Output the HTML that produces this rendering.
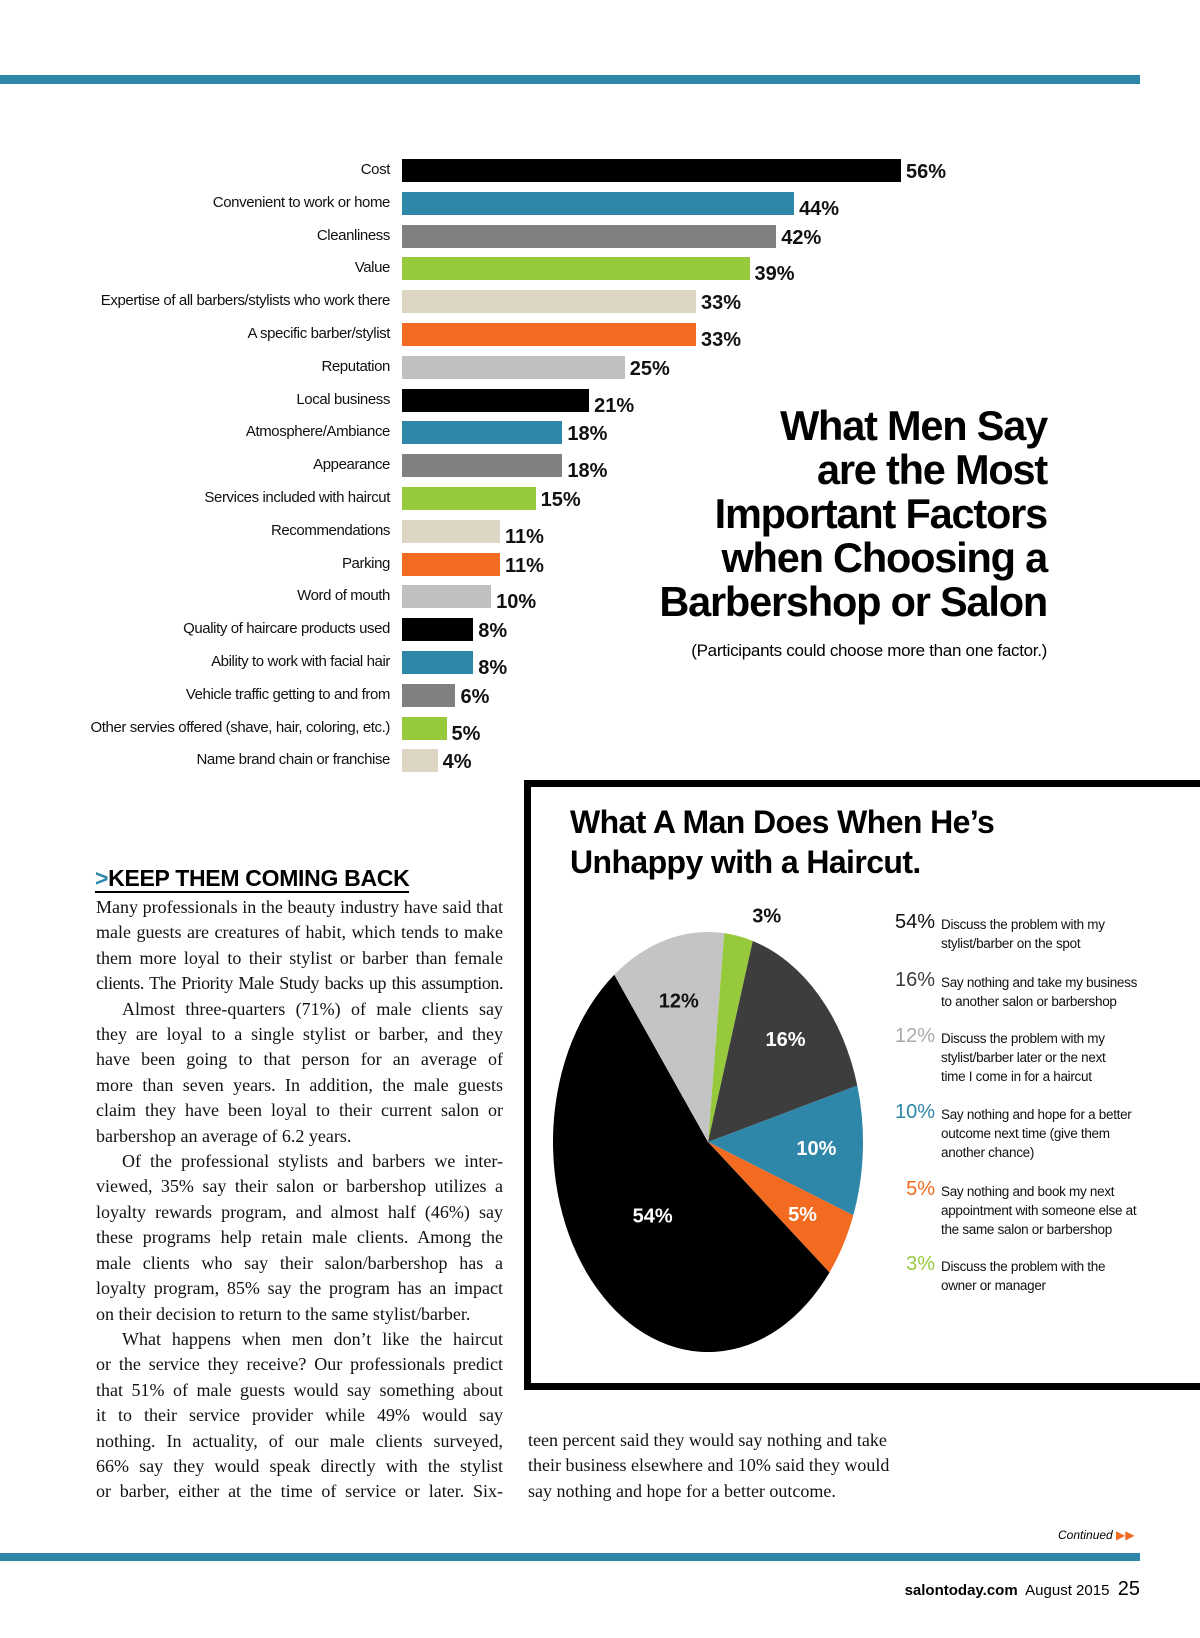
<!DOCTYPE html>
<html><head><meta charset="utf-8">
<style>
html,body{margin:0;padding:0;background:#fff;}
body{width:1200px;height:1638px;position:relative;overflow:hidden;font-family:"Liberation Sans",sans-serif;}
.abs{position:absolute;}
.lbl{position:absolute;right:810px;font-family:"Liberation Sans Narrow","Liberation Sans",sans-serif;font-size:15px;letter-spacing:-0.4px;white-space:nowrap;color:#111;}
.val{position:absolute;font-family:"Liberation Sans Narrow","Liberation Sans",sans-serif;font-weight:bold;font-size:20px;color:#111;}
.bar{position:absolute;height:23px;}
.title{position:absolute;right:153px;font-weight:bold;font-size:41.5px;letter-spacing:-1.2px;text-align:right;white-space:nowrap;line-height:44px;}
.body{position:absolute;left:96px;width:407px;font-family:"Liberation Serif",serif;font-size:18px;line-height:25.4px;color:#111;}
.body div{text-align:justify;text-align-last:justify;white-space:nowrap;}
.body div.last{text-align-last:left;}
.body div.ind{padding-left:26px;}
.leg{position:absolute;left:941px;font-family:"Liberation Sans Narrow","Liberation Sans",sans-serif;font-size:13.5px;line-height:19px;letter-spacing:-0.3px;color:#111;}
.legp{position:absolute;right:265px;font-family:"Liberation Sans Narrow","Liberation Sans",sans-serif;font-size:20px;}
</style></head>
<body>
<div class="abs" style="left:0;top:75px;width:1140px;height:9px;background:#2e86a8;"></div>
<div class="abs" style="left:0;top:1553px;width:1140px;height:8px;background:#2e86a8;"></div>

<div id="barchart"></div>

<div class="title" style="top:404px;">What Men Say<br>are the Most<br>Important Factors<br>when Choosing a<br>Barbershop or Salon</div>
<div class="abs" style="right:153px;top:641px;font-family:'Liberation Sans Narrow','Liberation Sans',sans-serif;font-size:17px;letter-spacing:-0.3px;">(Participants could choose more than one factor.)</div>

<div class="abs" style="left:524px;top:780px;width:700px;height:596px;border:7px solid #000;"></div>
<div class="abs" style="left:570px;top:802px;font-weight:bold;font-size:32px;line-height:40px;letter-spacing:-0.6px;">What A Man Does When He’s<br>Unhappy with a Haircut.</div>
<svg class="abs" id="pie" style="left:0;top:0;" width="1200" height="1638"></svg>
<div id="legend"></div>

<div class="abs" style="left:95px;top:866px;font-family:'Liberation Sans Narrow','Liberation Sans',sans-serif;font-weight:bold;font-size:23px;border-bottom:2px solid #000;line-height:25px;letter-spacing:-0.3px;"><span style="color:#2e86a8;">&gt;</span>KEEP THEM COMING BACK</div>
<div class="body" style="top:895px;">
<div>Many professionals in the beauty industry have said that</div>
<div>male guests are creatures of habit, which tends to make</div>
<div>them more loyal to their stylist or barber than female</div>
<div style="letter-spacing:-0.45px;word-spacing:-1px;">clients. The Priority Male Study backs up this assumption.</div>
<div class="ind">Almost three-quarters (71%) of male clients say</div>
<div>they are loyal to a single stylist or barber, and they</div>
<div>have been going to that person for an average of</div>
<div>more than seven years. In addition, the male guests</div>
<div>claim they have been loyal to their current salon or</div>
<div class="last">barbershop an average of 6.2 years.</div>
<div class="ind">Of the professional stylists and barbers we inter-</div>
<div>viewed, 35% say their salon or barbershop utilizes a</div>
<div>loyalty rewards program, and almost half (46%) say</div>
<div>these programs help retain male clients. Among the</div>
<div>male clients who say their salon/barbershop has a</div>
<div>loyalty program, 85% say the program has an impact</div>
<div class="last">on their decision to return to the same stylist/barber.</div>
<div class="ind">What happens when men don’t like the haircut</div>
<div>or the service they receive? Our professionals predict</div>
<div>that 51% of male guests would say something about</div>
<div>it to their service provider while 49% would say</div>
<div>nothing. In actuality, of our male clients surveyed,</div>
<div>66% say they would speak directly with the stylist</div>
<div>or barber, either at the time of service or later. Six-</div>
</div>
<div class="body" style="left:528px;top:1428px;width:390px;">
<div class="last">teen percent said they would say nothing and take</div>
<div class="last">their business elsewhere and 10% said they would</div>
<div class="last">say nothing and hope for a better outcome.</div>
</div>

<div class="abs" style="left:1058px;top:1528px;font-size:12px;font-style:italic;">Continued <span style="color:#f26b21;font-style:normal;">▶▶</span></div>
<div class="abs" style="right:60px;top:1578px;font-size:15px;white-space:nowrap;"><b>salontoday.com</b>&nbsp; August 2015 &nbsp;<span style="font-size:20px;">25</span></div>

<script>
const factorLabels=["Cost","Convenient to work or home","Cleanliness","Value","Expertise of all barbers/stylists who work there","A specific barber/stylist","Reputation","Local business","Atmosphere/Ambiance","Appearance","Services included with haircut","Recommendations","Parking","Word of mouth","Quality of haircare products used","Ability to work with facial hair","Vehicle traffic getting to and from","Other servies offered (shave, hair, coloring, etc.)","Name brand chain or franchise"];
const factorValues=[56,44,42,39,33,33,25,21,18,18,15,11,11,10,8,8,6,5,4];
const barColors=["#000","#2e86a8","#808080","#97c93d","#ddd6c4","#f26b21","#c0c0c0"];
const pieValues=[3,16,10,5,54,12];
const pieColors=["#97c93d","#3d3d3d","#2e86a8","#f26b21","#000000","#c4c4c4"];
const pieLabelColors=["#111","#fff","#fff","#fff","#fff","#111"];
const legendOrder=[4,1,5,2,3,0];
const legendTexts=["Discuss the problem with the<br>owner or manager","Say nothing and take my business<br>to another salon or barbershop","Say nothing and hope for a better<br>outcome next time (give them<br>another chance)","Say nothing and book my next<br>appointment with someone else at<br>the same salon or barbershop","Discuss the problem with my<br>stylist/barber on the spot","Discuss the problem with my<br>stylist/barber later or the next<br>time I come in for a haircut"];
const legendColors=["#97c93d","#3d3d3d","#2e86a8","#f26b21","#111","#aaa"];

const x0=402, perPct=(901-402)/56, rowTop=159, rowStep=32.8;
const xs=v=>v*perPct;
const host=document.getElementById('barchart');
factorValues.forEach((v,i)=>{
  const y=rowTop+i*rowStep;
  const b=document.createElement('div');
  b.className='bar';
  
  
  b.style.left=x0+'px';b.style.top=y+'px';b.style.width=xs(v)+'px';b.style.background=barColors[i%7];
  host.appendChild(b);
  const l=document.createElement('div');
  l.className='lbl';
  
  
  l.style.top=(y+2)+'px';l.textContent=factorLabels[i];
  host.appendChild(l);
  const t=document.createElement('div');
  t.className='val';
  
  
  t.style.left=(x0+xs(v)+5)+'px';t.style.top=(y+2+(i%2)*4)+'px';t.textContent=v+'%';
  host.appendChild(t);
});

const svg=document.getElementById('pie');
const NS='http://www.w3.org/2000/svg';
const cx=708,cy=1142,rx=155,ry=210;
const total=pieValues.reduce((a,b)=>a+b,0);
let ang=6*Math.PI/180;
const pt=(a,s)=>[cx+rx*s*Math.sin(a),cy-ry*s*Math.cos(a)];
pieValues.forEach((v,i)=>{
  const a1=ang+v/total*2*Math.PI;
  const p0=pt(ang,1),p1=pt(a1,1);
  const path=document.createElementNS(NS,'path');
  
  
  path.setAttribute('d',`M${cx},${cy} L${p0[0]},${p0[1]} A${rx},${ry} 0 ${(a1-ang)>Math.PI?1:0} 1 ${p1[0]},${p1[1]} Z`);
  path.setAttribute('fill',pieColors[i]);
  svg.appendChild(path);
  const mid=(ang+a1)/2;
  const s=v<5?1.1:(v>40?0.5:0.7);
  const lp=pt(mid,s);
  const t=document.createElementNS(NS,'text');
  
  
  t.setAttribute('x',lp[0]+(v<5?25:0));t.setAttribute('y',lp[1]+7);
  t.setAttribute('text-anchor','middle');
  t.setAttribute('font-family','Liberation Sans, sans-serif');
  t.setAttribute('font-weight','bold');t.setAttribute('font-size','20');
  t.setAttribute('fill',pieLabelColors[i]);
  t.textContent=v+'%';
  svg.appendChild(t);
  ang=a1;
});

const lg=document.getElementById('legend');
const legTops=[915,973,1029,1105,1182,1257];
legendOrder.forEach((k,j)=>{
  const p=document.createElement('div');
  p.className='legp';
  
  
  p.style.top=(legTops[j]-4)+'px';p.style.color=legendColors[k];p.textContent=pieValues[k]+'%';
  lg.appendChild(p);
  const d=document.createElement('div');
  d.className='leg';
  
  
  d.style.top=legTops[j]+'px';d.innerHTML=legendTexts[k];
  lg.appendChild(d);
});
</script>
</body></html>
